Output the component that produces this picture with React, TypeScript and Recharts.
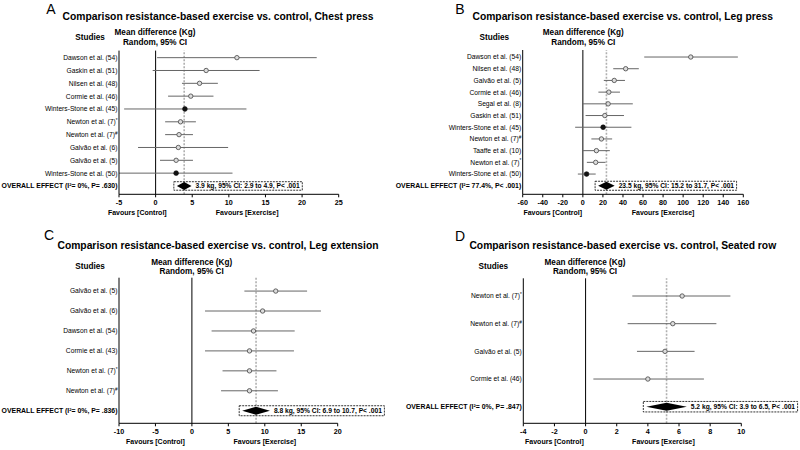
import React, { useLayoutEffect, useRef, useState } from 'react';
import { ScatterChart, Scatter, XAxis, YAxis, ErrorBar, ReferenceLine } from 'recharts';

const FONT = 'Arial, "Liberation Sans", Helvetica, sans-serif';

// A - Chest press
const STUDIES_A = [
  'Dawson et al. (54)', 'Gaskin et al. (51)', 'Nilsen et al. (48)', 'Cormie et al. (46)',
  'Winters-Stone et al. (45)', 'Newton et al. (7)*', 'Newton et al. (7)#', 'Galvão et al. (6)',
  'Galvão et al. (5)', 'Winters-Stone et al. (50)',
];
const MEAN_A = [11.1, 6.9, 6.0, 4.8, 4.0, 3.4, 3.2, 3.1, 2.8, 2.8];
const LOW_A = [0.2, -0.4, 3.6, 1.7, -4.3, 1.3, 1.3, -2.4, 0.6, -5];
const HIGH_A = [22.0, 14.2, 8.5, 7.9, 12.4, 5.5, 5.1, 9.9, 5.1, 10.5];
const OVERALL_A = [3.9, 2.9, 4.9];
const TICKS_A = [-5, 0, 5, 10, 15, 20, 25];

// B - Leg press
const STUDIES_B = [
  'Dawson et al. (54)', 'Nilsen et al. (48)', 'Galvão et al. (5)', 'Cormie et al. (46)',
  'Segal et al. (8)', 'Gaskin et al. (51)', 'Winters-Stone et al. (45)', 'Newton et al. (7)#',
  'Taaffe et al. (10)', 'Newton et al. (7)*', 'Winters-Stone et al. (50)',
];
const MEAN_B = [107.6, 42.7, 31.3, 25.9, 25.2, 21.9, 20.2, 18.5, 13.5, 12.8, 3.7];
const LOW_B = [61.2, 30.3, 20.9, 15.5, 0, 2.7, -7.7, 8.5, 0, 4.0, -5.0];
const HIGH_B = [154.6, 55.8, 42.0, 37.0, 49.8, 41.0, 48.4, 29.2, 26.9, 22.6, 12.8];
const OVERALL_B = [23.5, 15.2, 31.7];
const TICKS_B = [-60, -40, -20, 0, 20, 40, 60, 80, 100, 120, 140, 160];

// C - Leg extension
const STUDIES_C = [
  'Galvão et al. (5)', 'Galvão et al. (6)', 'Dawson et al. (54)', 'Cormie et al. (43)',
  'Newton et al. (7)*', 'Newton et al. (7)#',
];
const MEAN_C = [11.5, 9.7, 8.45, 7.9, 7.9, 7.9];
const LOW_C = [7.2, 1.8, 2.7, 1.8, 4.2, 4.0];
const HIGH_C = [15.8, 17.7, 14.1, 14.0, 11.6, 11.8];
const OVERALL_C = [8.8, 6.9, 10.7];
const TICKS_C = [-10, -5, 0, 5, 10, 15, 20];

// D - Seated row
const STUDIES_D = ['Newton et al. (7)*', 'Newton et al. (7)#', 'Galvão et al. (5)', 'Cormie et al. (46)'];
const MEAN_D = [6.2, 5.6, 5.1, 4.0];
const LOW_D = [3.0, 2.7, 3.3, 0.5];
const HIGH_D = [9.3, 8.4, 7.0, 7.6];
const OVERALL_D = [5.2, 3.9, 6.5];
const TICKS_D = [-4, -2, 0, 2, 4, 6, 8, 10];

const FILLED = ['Winters-Stone et al. (45)', 'Winters-Stone et al. (50)'];

const buildRows = (studies: string[], mean: number[], low: number[], high: number[]) =>
  studies.map((name, i) => ({
    row: i,
    x: mean[i],
    err: [mean[i] - low[i], high[i] - mean[i]],
    filled: FILLED.includes(name),
  }));

const StudyTick = (props: any) => {
  const { x, y, payload, labels, overallIndex } = props;
  const label: string = labels[payload.value] ?? '';
  const isOverall = payload.value === overallIndex;
  const last = label.slice(-1);
  const sup = last === '*' || last === '#';
  const main = sup ? label.slice(0, -1) : label;
  return (
    <text
      x={x}
      y={y}
      dy={2.4}
      textAnchor="end"
      fontSize={isOverall ? 6.9 : 6.7}
      fontWeight={isOverall ? 700 : 400}
      fontFamily={FONT}
      fill="#000"
    >
      {main}
      {sup && <tspan fontSize={4.6} dy={-2.4}>{last}</tspan>}
    </text>
  );
};

const SummaryMark = ({ points, text, boxH }: any) => {
  const ref = useRef<SVGTextElement>(null);
  const [tw, setTw] = useState(0);
  useLayoutEffect(() => {
    if (ref.current) setTw(ref.current.getComputedTextLength());
  }, [text]);
  if (!points || points.length < 3) return null;
  const [lo, mid, hi] = points;
  const cy = mid.y;
  const tx = hi.x + 4;
  const left = lo.x - 3;
  const right = tx + tw + 2.5;
  return (
    <g>
      <rect x={left} y={cy - boxH / 2} width={right - left} height={boxH} fill="none"
        stroke="#000" strokeWidth={0.8} strokeDasharray="2 1" />
      <polygon points={`${lo.x},${cy} ${mid.x},${cy - 4} ${hi.x},${cy} ${mid.x},${cy + 4}`} fill="#000" />
      <text ref={ref} x={tx} y={cy} dy={2.3} fontSize={6.7} fontWeight={700} fontFamily={FONT} fill="#000">
        {text}
      </text>
    </g>
  );
};

const FavoursLabel = (props: any) => {
  const { viewBox, domain } = props;
  if (!viewBox) return null;
  const zx = viewBox.x + (viewBox.width * (0 - domain[0])) / (domain[1] - domain[0]);
  const y = viewBox.y + 21;
  const style = { fontSize: 7, fontWeight: 700, fontFamily: FONT };
  return (
    <g>
      <text x={(viewBox.x + zx) / 2} y={y} textAnchor="middle" {...style}>Favours [Control]</text>
      <text x={(zx + viewBox.x + viewBox.width) / 2} y={y} textAnchor="middle" {...style}>Favours [Exercise]</text>
    </g>
  );
};

const Dot = (props: any) => {
  const { cx, cy, payload } = props;
  if (payload.filled) return <circle cx={cx} cy={cy} r={2.4} fill="#111" stroke="#111" strokeWidth={0.6} />;
  return <circle cx={cx} cy={cy} r={2.2} fill="#dcdcdc" stroke="#555" strokeWidth={0.9} />;
};

const ForestPanel = ({ studies, mean, low, high, overall, ticks, overallLabel, summary, cfg }: any) => {
  const rows = buildRows(studies, mean, low, high);
  const n = studies.length;
  const labels = [...studies, overallLabel];
  const xDomain = [ticks[0], ticks[ticks.length - 1]];
  const diamond = [
    { x: overall[1], row: n },
    { x: overall[0], row: n },
    { x: overall[2], row: n },
  ];
  return (
    <div style={{ position: 'absolute', left: cfg.left, top: cfg.top }}>
      <ScatterChart width={cfg.width} height={cfg.height} margin={cfg.margin}>
        <XAxis
          type="number"
          dataKey="x"
          domain={xDomain}
          ticks={ticks}
          interval={0}
          height={cfg.xAxisHeight}
          axisLine={{ stroke: '#000', strokeWidth: 1 }}
          tickLine={{ stroke: '#000', strokeWidth: 1 }}
          tickSize={3}
          tickMargin={2.5}
          tick={{ fontSize: 7.2, fontWeight: 700, fill: '#000', fontFamily: FONT }}
          label={(p: any) => <FavoursLabel {...p} domain={xDomain} />}
        />
        <YAxis
          type="number"
          dataKey="row"
          reversed
          domain={cfg.rowDomain}
          ticks={labels.map((_, i) => i)}
          interval={0}
          width={cfg.yWidth}
          axisLine={{ stroke: '#000', strokeWidth: 1 }}
          tickLine={false}
          tickSize={0}
          tickMargin={1.5}
          tick={(p: any) => <StudyTick {...p} labels={labels} overallIndex={n} />}
        />
        <ReferenceLine x={0} stroke="#000" strokeWidth={1} />
        <ReferenceLine x={overall[0]} stroke="#b0b0b0" strokeWidth={1.6} strokeDasharray="2 1.5" />
        <Scatter data={rows} shape={Dot} isAnimationActive={false} legendType="none">
          <ErrorBar dataKey="err" direction="x" width={0} stroke="#666" strokeWidth={1} />
        </Scatter>
        <Scatter
          data={diamond}
          shape={() => <g />}
          isAnimationActive={false}
          legendType="none"
          line={(p: any) => <SummaryMark points={p.points} text={summary} boxH={cfg.boxH} />}
        />
      </ScatterChart>
    </div>
  );
};

const Header = ({ letter, title, h }: any) => {
  const base: React.CSSProperties = {
    position: 'absolute',
    transform: 'translate(-50%, -50%)',
    whiteSpace: 'nowrap',
    lineHeight: 1,
    fontFamily: FONT,
    color: '#000',
  };
  return (
    <>
      <div style={{ ...base, left: h.letter[0], top: h.letter[1], fontSize: 14 }}>{letter}</div>
      <div style={{ ...base, left: h.title[0], top: h.title[1], fontSize: 10.3, fontWeight: 700 }}>{title}</div>
      <div style={{ ...base, left: h.studies[0], top: h.studies[1], fontSize: 8.2, fontWeight: 700 }}>Studies</div>
      <div style={{ ...base, left: h.md[0], top: h.md[1], fontSize: 8.2, fontWeight: 700 }}>Mean difference (Kg)</div>
      <div style={{ ...base, left: h.md[0], top: h.md[1] + 9.7, fontSize: 8.2, fontWeight: 700 }}>Random, 95% CI</div>
    </>
  );
};

const CFG_A = { left: 0, top: 0, width: 400, height: 225, yWidth: 119, xAxisHeight: 30,
  margin: { top: 50.6, right: 61.3, bottom: 0.7, left: 0 }, rowDomain: [-0.55, 10.65], boxH: 8.5 };
const CFG_B = { left: 380, top: 0, width: 420, height: 225, yWidth: 142.7, xAxisHeight: 30,
  margin: { top: 50, right: 56.7, bottom: 0.7, left: 0 }, rowDomain: [-0.6, 11.73], boxH: 9 };
const CFG_C = { left: 0, top: 225, width: 400, height: 225, yWidth: 119, xAxisHeight: 26.7,
  margin: { top: 52.7, right: 62.3, bottom: 0, left: 0 }, rowDomain: [-0.67, 6.63], boxH: 10 };
const CFG_D = { left: 380, top: 225, width: 420, height: 225, yWidth: 143.3, xAxisHeight: 26.7,
  margin: { top: 53.3, right: 58.7, bottom: 0, left: 0 }, rowDomain: [-0.64, 4.6], boxH: 10.5 };

export default function App() {
  return (
    <div style={{ position: 'absolute', left: 0, top: 0, width: 800, height: 450, background: '#fff', overflow: 'hidden' }}>
      <ForestPanel studies={STUDIES_A} mean={MEAN_A} low={LOW_A} high={HIGH_A} overall={OVERALL_A}
        ticks={TICKS_A} cfg={CFG_A} overallLabel="OVERALL EFFECT (I²= 0%, P= .630)"
        summary="3.9 kg, 95% CI: 2.9 to 4.9, P< .001" />
      <ForestPanel studies={STUDIES_B} mean={MEAN_B} low={LOW_B} high={HIGH_B} overall={OVERALL_B}
        ticks={TICKS_B} cfg={CFG_B} overallLabel="OVERALL EFFECT (I²= 77.4%, P< .001)"
        summary="23.5 kg, 95% CI: 15.2 to 31.7, P< .001" />
      <ForestPanel studies={STUDIES_C} mean={MEAN_C} low={LOW_C} high={HIGH_C} overall={OVERALL_C}
        ticks={TICKS_C} cfg={CFG_C} overallLabel="OVERALL EFFECT (I²= 0%, P= .836)"
        summary="8.8 kg, 95% CI: 6.9 to 10.7, P< .001" />
      <ForestPanel studies={STUDIES_D} mean={MEAN_D} low={LOW_D} high={HIGH_D} overall={OVERALL_D}
        ticks={TICKS_D} cfg={CFG_D} overallLabel="OVERALL EFFECT (I²= 0%, P= .847)"
        summary="5.2 kg, 95% CI: 3.9 to 6.5, P< .001" />
      <Header letter="A" title="Comparison resistance-based exercise vs. control, Chest press"
        h={{ letter: [51, 9], title: [218, 17], studies: [90, 38], md: [155, 33] }} />
      <Header letter="B" title="Comparison resistance-based exercise vs. control, Leg press"
        h={{ letter: [460, 9], title: [622.7, 17], studies: [494.3, 38], md: [583.3, 33] }} />
      <Header letter="C" title="Comparison resistance-based exercise vs. control, Leg extension"
        h={{ letter: [49, 235], title: [218, 245.7], studies: [90, 267.3], md: [191.7, 262.7] }} />
      <Header letter="D" title="Comparison resistance-based exercise vs. control, Seated row"
        h={{ letter: [460, 236], title: [622.8, 246], studies: [493.3, 267.3], md: [585, 262.7] }} />
    </div>
  );
}
